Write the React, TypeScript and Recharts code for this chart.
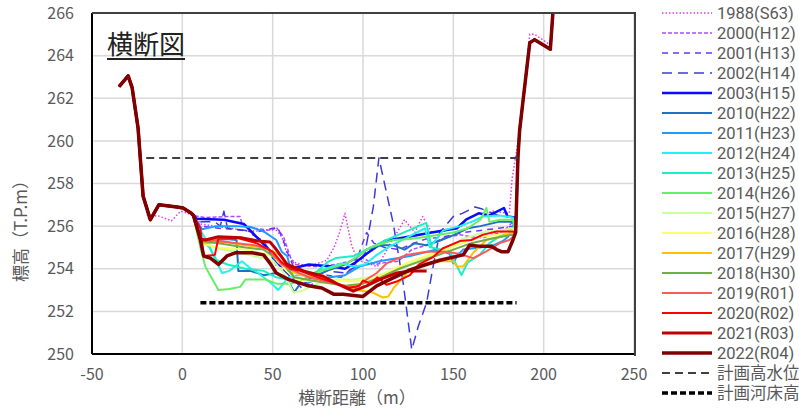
import { LineChart, Line, XAxis, YAxis, CartesianGrid } from "recharts";

type P = [number, number];

const X_TICKS = [-50, 0, 50, 100, 150, 200, 250];
const Y_TICKS = [250, 252, 254, 256, 258, 260, 262, 264, 266];

// shared banks (all surveys overlap here)
const LEFT_TOP: P[] = [[-35, 262.55], [-30, 263.05], [-27.8, 262.5], [-24.5, 260.6], [-21.7, 257.4]];
const LEFT_TERRACE: P[] = [[-17.7, 256.3], [-13, 257.0], [-3, 256.9], [0.4, 256.85], [5, 256.6]];
const RIGHT_BANK: P[] = [[184.5, 255.7], [185.8, 259.3], [186.7, 260.5], [188.6, 261.9], [192.3, 264.6], [195, 264.75], [203.7, 264.3], [205.1, 266], [207, 268]];

const MID_1988: P[] = [[-19, 256.4], [-14, 256.5], [-6, 256.25], [-1, 256.7], [3, 256.6], [8, 256.4], [10, 256.1], [18, 256.0], [26, 255.9], [35, 255.8], [45, 255.75], [51, 255.9], [55, 255.5], [58, 254.7], [62, 254.3], [70, 254.1], [80, 254.4], [84, 255.0], [87, 255.7], [90, 256.6], [93.7, 255.1], [97, 254.4], [101, 254.3], [108, 254.1], [116, 255.3], [123, 256.3], [128.7, 255.7], [133, 256.45], [138, 255.7], [146, 255.8], [154, 256.0], [163, 256.3], [172, 256.7], [181, 256.6], [182.5, 258.2], [187.7, 261], [192.3, 265], [195, 265], [203.7, 264.5], [205.1, 266.1], [207, 268]];
const MID_2000: P[] = [[6, 256.5], [12.7, 256.4], [25, 256.45], [32, 256.45], [33, 256.1], [40, 255.9], [49.5, 255.8], [52, 255.95], [56, 255.5], [60, 254.5], [62, 254.2], [73.5, 254.1], [85, 254.2], [95, 254.4], [100, 254.5], [106.6, 254.2], [113, 254.3], [119.5, 254.35], [127, 254.9], [135, 255.1], [145, 255.45], [153.6, 255.6], [160, 255.5], [166.5, 255.45], [172, 255.6], [177.5, 255.75], [183, 256.2]];
const MID_2001: P[] = [[6, 256.5], [10, 256.0], [20, 255.9], [30, 255.85], [40, 255.7], [50, 255.9], [53, 255.9], [56, 255.3], [58, 254.8], [62, 254.0], [67, 253.5], [69, 253.1], [74, 253.4], [80, 253.7], [88, 253.6], [95, 254.1], [99, 255.0], [102, 255.7], [106, 255.2], [112, 255.0], [120, 254.9], [128, 255.2], [135, 255.4], [145, 255.5], [155, 255.7], [165, 255.8], [175, 255.9], [183, 256.0]];
const MID_2002: P[] = [[6, 256.5], [10, 256.2], [18, 256.2], [21, 256.0], [23, 256.7], [25, 255.9], [35, 255.8], [45, 255.3], [52, 254.3], [60, 253.6], [66, 253.1], [70, 253.5], [80, 253.9], [90, 253.8], [96, 254.1], [101, 254.7], [105.7, 256.9], [108.8, 259.2], [116.8, 256.1], [122.3, 253.3], [127, 250.2], [130.6, 251.3], [135.2, 252.4], [138.8, 254.1], [142.5, 255.7], [150, 256.45], [155, 256.6], [162, 256.9], [166, 256.8], [175, 256.5], [184, 256.4]];
const MID_2003: P[] = [[6, 256.5], [8, 256.35], [23, 256.3], [34, 256.1], [41, 255.5], [48, 254.9], [52, 254.2], [60, 254.0], [70, 254.2], [83, 254.1], [90, 254.0], [96, 254.3], [102, 254.7], [112, 255.3], [125, 255.5], [138, 255.7], [152, 255.9], [157, 256.3], [164, 256.6], [170, 256.5], [178, 256.85], [180, 256.45], [184, 256.4]];
const MID_2010: P[] = [[6, 256.5], [8, 256.2], [10, 255.3], [15, 255.3], [25, 255.4], [30, 255.35], [31, 253.9], [37.6, 253.9], [45, 253.7], [52, 253.8], [58, 253.5], [62, 252.9], [66, 253.4], [72, 253.6], [80, 253.9], [90, 254.2], [96, 254.5], [102, 254.9], [110, 255.1], [117, 255.1], [123, 254.9], [128.7, 255.2], [135, 255.1], [142, 255.3], [150.8, 255.6], [158, 255.9], [165, 256.0], [175, 256.2], [183, 256.2]];
const MID_2011: P[] = [[6, 256.5], [10.9, 255.85], [19, 256.0], [30, 256.0], [38, 255.95], [45, 255.75], [52, 255.35], [55, 254.8], [58, 254.6], [62, 253.4], [68, 253.25], [73.5, 253.5], [82, 253.6], [90, 253.7], [98, 254.1], [109, 254.35], [126, 254.6], [140.7, 254.9], [148, 254.7], [150, 254.25], [152, 254.6], [155.4, 254.9], [165, 255.0], [172, 255.1], [177.5, 255.3], [180.3, 255.5], [183, 256.0]];
const MID_2012: P[] = [[6, 256.5], [10, 255.8], [13.6, 255.3], [18, 254.5], [22, 253.8], [26, 253.9], [33, 254.35], [38, 254.0], [42, 253.8], [49.5, 253.3], [53, 253.0], [58.7, 253.6], [64, 253.7], [70, 253.7], [79, 254.0], [88, 254.25], [95, 254.1], [101, 254.2], [107.6, 254.65], [115.8, 255.1], [123, 255.4], [134.3, 255.9], [137, 255.0], [144.4, 255.8], [153.6, 256.0], [160, 256.2], [166.5, 256.45], [175.7, 256.5], [183, 256.4]];
const MID_2013: P[] = [[6, 256.5], [10, 255.4], [15, 255.0], [19, 254.4], [25, 254.2], [35, 254.0], [45, 253.9], [52, 253.6], [58, 253.5], [65, 253.4], [75, 253.9], [81, 254.35], [85, 254.5], [95, 254.6], [102, 254.9], [113, 255.35], [124, 255.75], [135, 256.15], [138, 255.0], [148, 254.8], [154.5, 253.7], [158, 254.3], [164.6, 254.65], [170, 255.2], [177, 255.6], [183, 255.9]];
const MID_2014: P[] = [[6, 256.5], [10, 255.0], [12.7, 254.1], [16, 253.6], [20, 253.0], [26, 253.05], [32, 253.15], [35, 253.5], [46, 253.5], [52, 253.3], [60, 253.3], [68, 253.5], [77, 253.9], [85, 254.1], [92, 254.3], [97.4, 254.6], [104, 255.0], [116.8, 255.35], [126, 255.4], [135, 255.5], [150, 255.7], [158, 255.9], [165, 256.3], [168.3, 256.85], [170, 256.2], [176, 256.3], [183, 256.3]];
const MID_2015: P[] = [[6, 256.5], [10, 255.3], [15, 255.1], [22, 254.9], [30, 254.8], [39, 254.6], [50, 254.4], [56, 253.8], [61.5, 252.9], [66, 252.95], [75, 253.3], [85, 253.5], [95, 253.5], [103, 253.6], [108.5, 253.7], [119.5, 254.0], [134, 254.5], [147, 254.9], [155, 255.4], [163, 255.6], [168, 255.75], [175, 255.8], [183, 255.9]];
const MID_2016: P[] = [[6, 256.5], [10, 255.2], [20, 255.0], [35, 254.9], [50, 254.6], [58, 253.9], [65, 253.4], [80, 253.5], [95, 253.4], [105, 253.5], [115, 253.9], [125, 254.3], [135, 254.6], [145, 254.9], [155, 255.2], [165, 255.5], [175, 255.6], [183, 255.8]];
const MID_2017: P[] = [[6, 256.5], [10, 255.2], [12.7, 255.2], [24, 255.25], [35, 255.1], [45, 255.0], [50, 254.8], [55, 254.6], [58.7, 253.9], [66, 253.7], [75, 253.6], [85, 253.3], [96.5, 253.0], [104.8, 252.9], [111, 252.65], [114, 252.7], [117, 253.1], [125, 253.85], [131.5, 254.2], [142.5, 254.35], [150, 254.35], [152, 254.1], [155.4, 254.1], [161, 254.75], [168.3, 255.35], [175.7, 255.5], [183, 255.7]];
const MID_2018: P[] = [[6, 256.5], [10, 255.3], [20, 255.2], [35, 255.0], [45, 254.9], [55, 254.3], [62, 253.6], [75, 253.4], [90, 253.2], [100, 253.3], [110, 253.6], [120, 254.0], [130, 254.3], [140, 254.6], [150, 254.9], [160, 255.2], [170, 255.4], [183, 255.6]];
const MID_2019: P[] = [[6, 256.5], [10, 255.4], [20, 255.3], [30, 255.2], [40, 255.1], [48, 254.9], [55, 254.2], [62, 253.9], [70, 253.6], [80, 253.4], [90, 253.2], [96, 253.1], [102, 253.5], [107.6, 253.8], [113, 254.25], [124, 254.65], [135, 254.8], [146, 254.8], [153, 254.7], [161, 254.5], [168, 254.8], [175.7, 255.2], [181, 255.35], [183, 255.5]];
const MID_2020: P[] = [[6, 256.5], [10, 255.9], [11.8, 254.6], [18, 254.65], [20, 255.45], [30, 255.45], [41, 255.2], [50, 254.8], [55, 254.3], [60, 254.0], [65, 253.9], [75, 253.6], [85, 253.3], [92, 253.1], [98, 253.2], [100, 253.45], [104, 253.3], [108, 253.6], [113, 253.25], [118.6, 253.4], [126, 253.7], [131, 254.2], [138.8, 254.55], [144, 254.95], [153.6, 255.3], [160, 255.35], [166.5, 255.6], [174, 255.75], [183, 255.75]];
const MID_2021: P[] = [[6, 256.5], [10, 255.4], [12.7, 255.35], [20, 255.5], [33, 255.45], [42, 255.3], [48.6, 255.25], [52, 254.9], [58, 254.2], [67, 253.9], [78, 253.65], [85.5, 253.3], [94.6, 252.95], [102, 253.2], [109.4, 253.5], [118.6, 253.8], [126, 253.9], [135.2, 253.9]];
const MID_2022: P[] = [[6.3, 256.5], [10, 255.35], [11.8, 254.6], [15.5, 254.5], [20, 254.2], [24.7, 254.6], [29.3, 254.75], [38.5, 254.75], [45, 254.65], [48.6, 254.25], [52, 253.8], [58.7, 253.5], [69.8, 253.2], [77.2, 253.1], [84, 252.8], [89, 252.8], [95, 252.75], [100, 252.7], [107.6, 253.2], [115, 253.5], [126, 253.95], [135, 254.2], [142.5, 254.4], [155.4, 254.65], [159, 255.1], [165.6, 255.05], [171, 255.05], [174, 254.9], [176.6, 254.8], [180.3, 254.8], [183, 255.35]];

const PLAN_HWL: P[] = [[-20, 259.2], [186.5, 259.2]];
const PLAN_BED: P[] = [[10, 252.4], [185, 252.4]];

const full = (mid: P[]) => [...LEFT_TOP, ...LEFT_TERRACE, ...mid, ...RIGHT_BANK];

type Series = { name: string; color: string; width: number; dash?: string; pts: P[] };

const SERIES: Series[] = [
  { name: "1988(S63)", color: "#e23de2", width: 1.5, dash: "1.5 2", pts: [...LEFT_TOP, ...MID_1988] },
  { name: "2000(H12)", color: "#a64dff", width: 1.5, dash: "4 2", pts: full(MID_2000) },
  { name: "2001(H13)", color: "#7030ff", width: 1.5, dash: "6 5", pts: full(MID_2001) },
  { name: "2002(H14)", color: "#3b3bd6", width: 1.5, dash: "10 6", pts: full(MID_2002) },
  { name: "2003(H15)", color: "#0a0aff", width: 2.5, pts: full(MID_2003) },
  { name: "2010(H22)", color: "#1f70c0", width: 2, pts: full(MID_2010) },
  { name: "2011(H23)", color: "#1e9bff", width: 2, pts: full(MID_2011) },
  { name: "2012(H24)", color: "#22f2f2", width: 2, pts: full(MID_2012) },
  { name: "2013(H25)", color: "#1aeec4", width: 2, pts: full(MID_2013) },
  { name: "2014(H26)", color: "#66ee66", width: 2, pts: full(MID_2014) },
  { name: "2015(H27)", color: "#ccff99", width: 2, pts: full(MID_2015) },
  { name: "2016(H28)", color: "#ffff66", width: 2, pts: full(MID_2016) },
  { name: "2017(H29)", color: "#ffc000", width: 2, pts: full(MID_2017) },
  { name: "2018(H30)", color: "#70ad47", width: 2, pts: full(MID_2018) },
  { name: "2019(R01)", color: "#ff5a5a", width: 2, pts: full(MID_2019) },
  { name: "2020(R02)", color: "#ff0000", width: 2, pts: full(MID_2020) },
  { name: "2021(R03)", color: "#c00000", width: 3, pts: [...LEFT_TOP, ...LEFT_TERRACE, ...MID_2021] },
  { name: "2022(R04)", color: "#800000", width: 3.5, pts: full(MID_2022) },
  { name: "計画高水位", color: "#404040", width: 2, dash: "8 5", pts: PLAN_HWL },
  { name: "計画河床高", color: "#000000", width: 3.5, dash: "6 3", pts: PLAN_BED },
];

const FONT = "'Noto Sans CJK JP', 'Noto Sans', sans-serif";
const LEGEND_FONT = "Roboto, 'Noto Sans CJK JP', sans-serif";
const GRAY = "#595959";

export default function App() {
  return (
    <div style={{ position: "fixed", left: 0, top: 0, width: 799, height: 408, overflow: "hidden", background: "#fff", fontFamily: FONT }}>
      <LineChart width={799} height={408} margin={{ top: 13, right: 165, bottom: 24, left: 0 }}>
        <CartesianGrid stroke="#d9d9d9" strokeWidth={1.5} />
        <XAxis
          type="number"
          dataKey="x"
          domain={[-50, 250]}
          ticks={X_TICKS}
          allowDataOverflow
          axisLine={{ stroke: "#000", strokeWidth: 2 }}
          tickLine={false}
          tickMargin={9}
          height={30}
          tick={{ fontSize: 16, fill: GRAY, fontFamily: FONT }}
        />
        <YAxis
          type="number"
          domain={[250, 266]}
          ticks={Y_TICKS}
          allowDataOverflow
          width={92}
          axisLine={{ stroke: "#000", strokeWidth: 2 }}
          tickLine={false}
          tickMargin={12}
          tick={{ fontSize: 16, fill: GRAY, fontFamily: FONT }}
        />
        {SERIES.map((s) => (
          <Line
            key={s.name}
            data={s.pts.map(([x, y]) => ({ x, y }))}
            dataKey="y"
            name={s.name}
            stroke={s.color}
            strokeWidth={s.width}
            strokeDasharray={s.dash}
            strokeLinejoin="round"
            dot={false}
            activeDot={false}
            isAnimationActive={false}
          />
        ))}
      </LineChart>

      {/* plot frame top/right */}
      <div style={{ position: "absolute", left: 92, top: 12, width: 542, height: 342, borderTop: "2px solid #404040", borderRight: "2px solid #404040", pointerEvents: "none" }} />

      <div style={{ position: "absolute", left: 107, top: 28, fontSize: 26, color: "#222", lineHeight: "30px", textDecoration: "underline", textUnderlineOffset: 4 }}>
        横断図
      </div>

      <div style={{ position: "absolute", left: 20, top: 227, transform: "translate(-50%, -50%) rotate(-90deg)", fontSize: 17, lineHeight: "18px", color: GRAY, whiteSpace: "nowrap" }}>
        標高（T.P.m）
      </div>
      <div style={{ position: "absolute", left: 357, top: 397, transform: "translate(-50%, -50%)", fontSize: 17, lineHeight: "16px", height: 16, color: GRAY, whiteSpace: "nowrap" }}>
        横断距離（m）
      </div>

      {SERIES.map((s, i) => (
        <div key={s.name} style={{ position: "absolute", left: 661, top: 13.3 + i * 20 - 9, height: 18, display: "flex", alignItems: "center", whiteSpace: "nowrap" }}>
          <svg width={51} height={18}>
            <line x1={1} y1={9} x2={51} y2={9} stroke={s.color} strokeWidth={s.width} strokeDasharray={s.dash} />
          </svg>
          <span style={{ display: "inline-block", marginLeft: 5, fontFamily: LEGEND_FONT, fontSize: 16.5, lineHeight: "17px", height: 17, color: GRAY }}>{s.name}</span>
        </div>
      ))}
    </div>
  );
}
